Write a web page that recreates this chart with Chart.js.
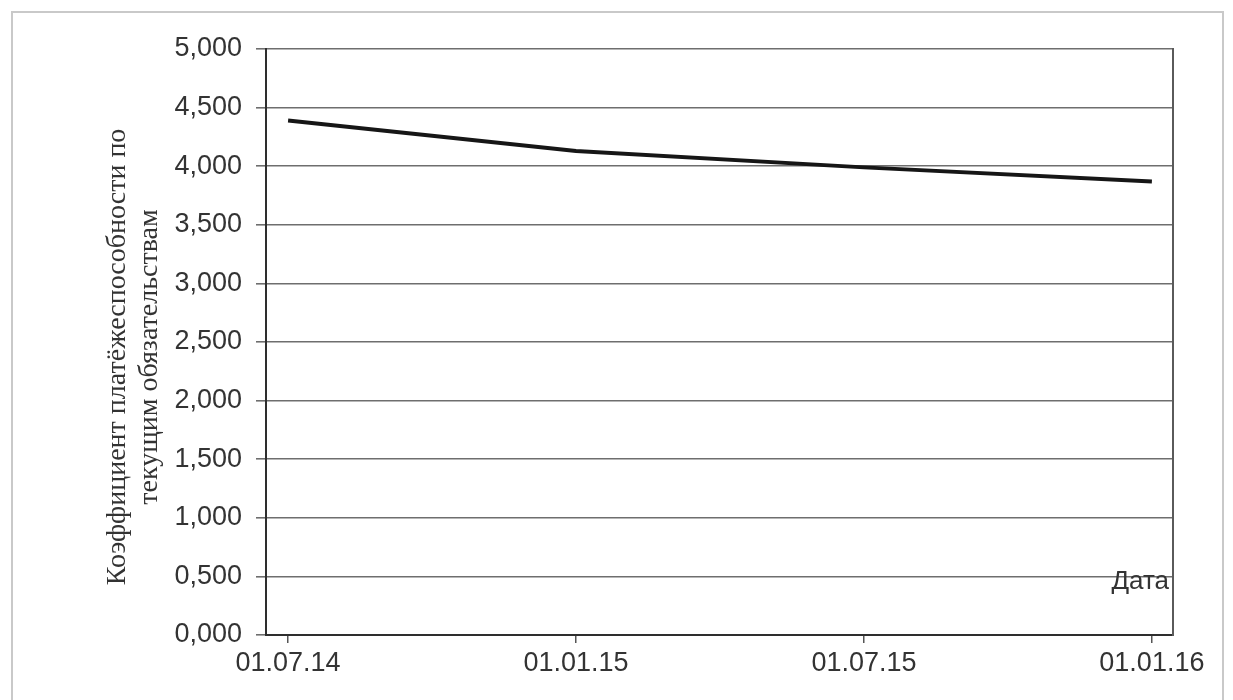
<!DOCTYPE html>
<html lang="ru">
<head>
<meta charset="utf-8">
<title>Коэффициент платёжеспособности по текущим обязательствам</title>
<script src="https://cdn.jsdelivr.net/npm/chart.js@4/dist/chart.umd.min.js"></script>
<style>
  html, body { margin: 0; padding: 0; background: #ffffff; }
  #wrap { width: 1233px; height: 700px; position: relative; }
</style>
</head>
<body>
<div id="wrap"><canvas id="chart" width="1233" height="700"></canvas></div>
<script>
// Reporting dates, as months counted from 01.07.14
const reportMonths = [0, 6, 12, 18];
const dateLabels = ['01.07.14', '01.01.15', '01.07.15', '01.01.16'];
// Current-liabilities solvency ratio at each date
const ratioValues = [4.39, 4.13, 3.99, 3.87];
// Value-axis ticks
const yTickValues = [0, 0.5, 1, 1.5, 2, 2.5, 3, 3.5, 4, 4.5, 5];

const yTitleLines = ['Коэффициент платёжеспособности по', 'текущим обязательствам'];
const xCaption = 'Дата';

const points = reportMonths.map((m, i) => ({ x: m, y: ratioValues[i] }));

const axisFont = { family: '"Liberation Sans", Arial, sans-serif', size: 27 };
const inkColor = '#333333';
const gridColor = '#6e6e6e';

// Light outer frame of the chart object
const framePlugin = {
  id: 'outerFrame',
  beforeDraw(chart) {
    const { ctx, width, height } = chart;
    ctx.save();
    ctx.strokeStyle = '#c9c9c9';
    ctx.lineWidth = 2;
    ctx.strokeRect(12, 12, width - 22, height + 10);
    ctx.restore();
  }
};

// Two-line rotated title of the value axis, centred on the axis
const yTitlePlugin = {
  id: 'yTitle',
  afterDraw(chart) {
    const { ctx, scales } = chart;
    const y = scales.y;
    const cy = (y.top + y.bottom) / 2 + 15;
    ctx.save();
    ctx.font = '28px "Liberation Serif", "Times New Roman", serif';
    ctx.fillStyle = inkColor;
    ctx.textAlign = 'center';
    ctx.textBaseline = 'middle';
    yTitleLines.forEach((line, i) => {
      ctx.save();
      ctx.translate(y.left + 28 + i * 32, cy);
      ctx.rotate(-Math.PI / 2);
      ctx.fillText(line, 0, 0);
      ctx.restore();
    });
    ctx.restore();
  }
};

// Caption drawn inside the plot, lower right corner
const captionPlugin = {
  id: 'xCaption',
  afterDatasetsDraw(chart) {
    const { ctx, chartArea, scales } = chart;
    ctx.save();
    ctx.font = '26px "Liberation Sans", Arial, sans-serif';
    ctx.fillStyle = inkColor;
    ctx.textAlign = 'right';
    ctx.textBaseline = 'middle';
    ctx.fillText(xCaption, chartArea.right - 4, scales.y.getPixelForValue(0.45));
    ctx.restore();
  }
};

new Chart(document.getElementById('chart'), {
  type: 'line',
  data: {
    datasets: [{
      data: points,
      borderColor: '#161616',
      borderWidth: 4,
      tension: 0,
      pointRadius: 0,
      fill: false
    }]
  },
  options: {
    responsive: false,
    animation: false,
    events: [],
    layout: { padding: { left: 90, top: 49, right: 60, bottom: 0 } },
    plugins: { legend: { display: false }, tooltip: { enabled: false } },
    scales: {
      x: {
        type: 'linear',
        min: -0.46,
        max: 18.44,
        afterBuildTicks(scale) { scale.ticks = reportMonths.map(v => ({ value: v })); },
        afterFit(scale) { scale.height = 65; },
        ticks: {
          callback: (v) => dateLabels[reportMonths.indexOf(v)] ?? '',
          font: axisFont,
          color: inkColor,
          padding: 4,
          maxRotation: 0,
          autoSkip: false
        },
        grid: { drawOnChartArea: false, drawTicks: true, tickLength: 8, color: '#555', lineWidth: 1.5 },
        border: { display: true, color: '#2e2e2e', width: 2 }
      },
      y: {
        min: 0,
        max: 5,
        afterBuildTicks(scale) { scale.ticks = yTickValues.map(v => ({ value: v })); },
        afterFit(scale) { scale.width = 176; },
        ticks: {
          callback: (v) => v.toFixed(3).replace('.', ','),
          font: axisFont,
          color: inkColor,
          padding: 14
        },
        grid: { color: gridColor, lineWidth: 1.6, tickLength: 10 },
        border: { display: true, color: '#2e2e2e', width: 2 }
      },
      yRight: {
        position: 'right',
        min: 0,
        max: 5,
        afterFit(scale) { scale.width = 0; },
        ticks: { display: false },
        grid: { drawOnChartArea: false, drawTicks: false },
        border: { display: true, color: '#5a5a5a', width: 2 }
      }
    }
  },
  plugins: [framePlugin, yTitlePlugin, captionPlugin]
});
</script>
</body>
</html>
